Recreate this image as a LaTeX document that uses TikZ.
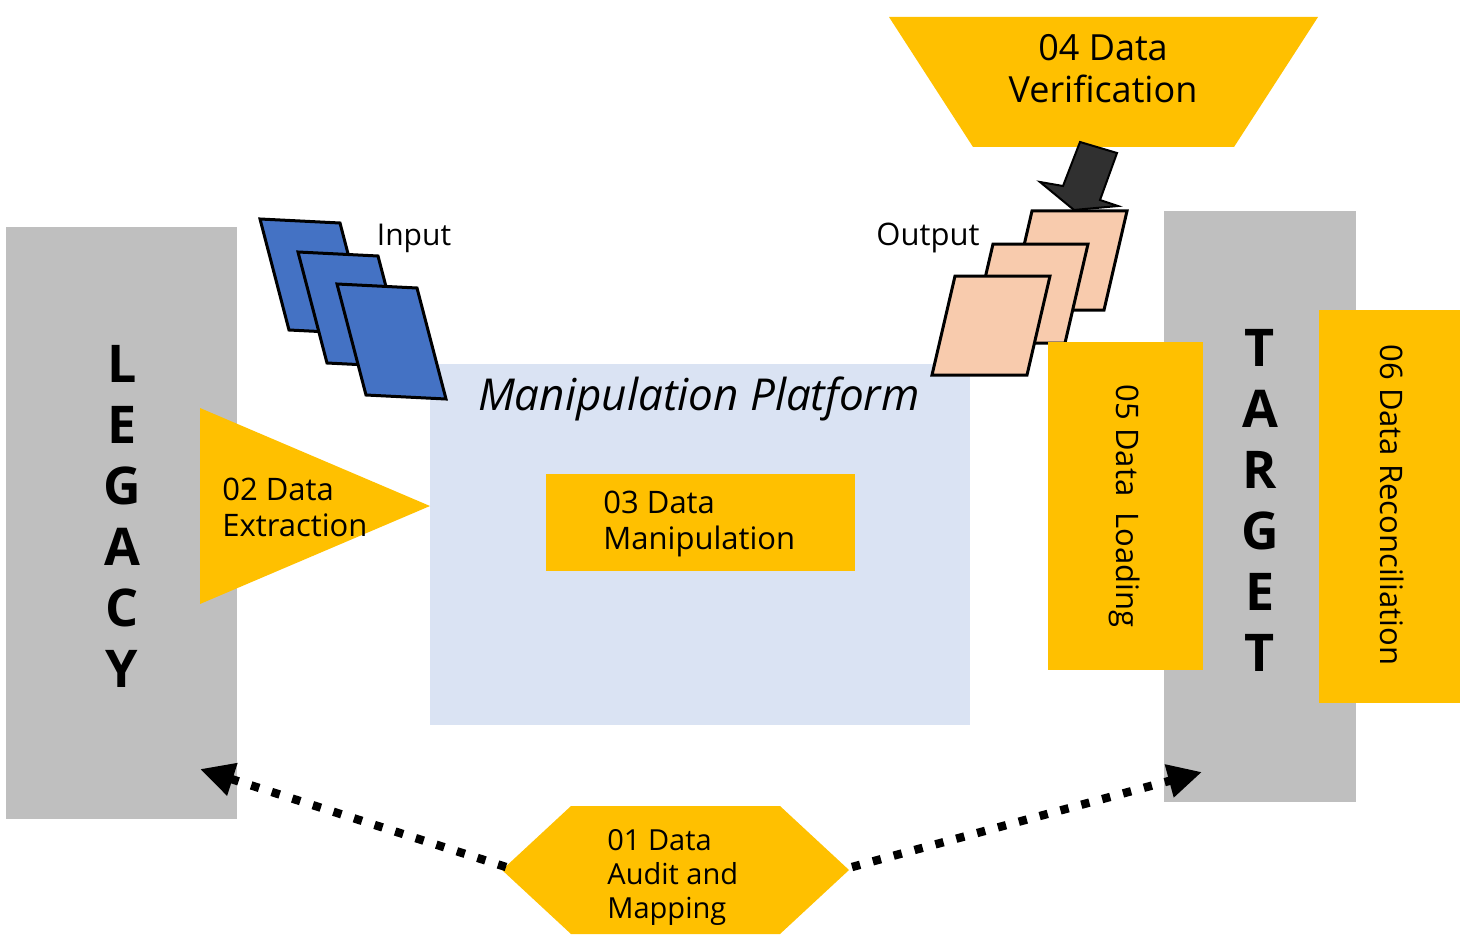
\documentclass[tikz,border=0pt]{standalone}
\usepackage{fontspec}
\setmainfont{Open Sans}
\usetikzlibrary{arrows.meta}
\definecolor{lgray}{HTML}{BFBFBF}
\definecolor{gold}{HTML}{FFC000}
\definecolor{paleblue}{HTML}{DAE3F3}
\definecolor{docblue}{HTML}{4472C4}
\definecolor{peach}{HTML}{F8CBAD}
\definecolor{darkarrow}{HTML}{303030}
\tikzset{
  blockbox/.style={inner sep=0pt, outer sep=0pt, anchor=north west, draw=none},
  lbl/.style={font=\fontsize{15.5}{18}\selectfont, align=left, inner sep=0pt},
  doc/.style={draw=black, line width=1.5pt, line join=miter},
  dotarrow/.style={line width=4.2pt, dash pattern=on 4.2pt off 6.6pt, line cap=butt,
                   -{Triangle[length=17pt,width=16pt]}},
  bigletter/.style={font=\fontsize{26}{30.5}\selectfont\bfseries, align=center, inner sep=0pt}
}
\begin{document}
\begin{tikzpicture}[x=0.5pt,y=-0.5pt]
\useasboundingbox (0,0) rectangle (1460,936);
\clip (0,0) rectangle (1460,936);

% big gray columns and platform
\node[blockbox, fill=lgray, minimum width=115.5pt, minimum height=296pt] (legacy) at (6,227) {};
\node[blockbox, fill=lgray, minimum width=96pt, minimum height=295.5pt] (target) at (1164,211) {};
\node[blockbox, fill=paleblue, minimum width=270pt, minimum height=180.5pt] (platform) at (430,364) {};

\node[bigletter] (legacytxt) at (122,516) {L\\E\\G\\A\\C\\Y};
\node[bigletter] (targettxt) at (1260,500) {T\\A\\R\\G\\E\\T};

\node[font=\fontsize{22}{26}\selectfont\itshape, inner sep=0pt] (plattxt) at (699,399) {Manipulation Platform};

% 02 triangle
\fill[gold] (200,408) -- (430,506) -- (200,604) -- cycle;
\node[lbl, anchor=west] (extract) at (222,507) {02 Data\\Extraction};

% 03 box
\node[blockbox, fill=gold, minimum width=154.5pt, minimum height=48.5pt] (manip) at (546,474) {};
\node[lbl, anchor=west] (maniptxt) at (603,524) {03 Data\\Manipulation};

% input documents
\foreach \x/\y in {260/219, 298/252, 337/284}{
  \draw[doc, fill=docblue] (\x,\y) -- ++(80,4) -- ++(29,111) -- ++(-80,-4) -- cycle;
}
\node[font=\fontsize{15}{18}\selectfont, inner sep=0pt] (inlbl) at (414,238) {Input};

% output documents
\foreach \x/\y in {1032/211, 993/244, 955/276}{
  \draw[doc, fill=peach] (\x,\y) -- ++(95,0) -- ++(-23,99) -- ++(-95,0) -- cycle;
}
\node[font=\fontsize{15.5}{18}\selectfont, inner sep=0pt] (outlbl) at (928,238) {Output};

% 05 and 06
\node[blockbox, fill=gold, minimum width=77.5pt, minimum height=164pt] (load) at (1048,342) {};
\node[lbl, rotate=-90] (loadtxt) at (1125,506) {05 Data\ \ Loading};
\node[blockbox, fill=gold, minimum width=71pt, minimum height=196.5pt] (recon) at (1319,310) {};
\node[lbl, rotate=-90] (recontxt) at (1392,505) {06 Data Reconciliation};

% 04 trapezoid
\fill[gold] (889,17) -- (1318,17) -- (1234,147) -- (973,147) -- cycle;
\node[font=\fontsize{18}{21}\selectfont, align=center, inner sep=0pt] (verif) at (1103,69) {04 Data\\Verification};

% dark block arrow
\draw[fill=darkarrow, draw=black, line width=1pt, line join=miter]
  (1080,142) -- (1117,153) -- (1100,200) -- (1118,206) -- (1074,210) -- (1040,182) -- (1063,186) -- cycle;

% 01 hexagon
\fill[gold] (502,870) -- (571,806) -- (780,806) -- (849,870) -- (780,934) -- (571,934) -- cycle;
\coordinate (hexW) at (506,867);
\coordinate (hexE) at (852,867);
\node[lbl, anchor=west, font=\fontsize{14.5}{17}\selectfont] (audit) at (607,877) {01 Data\\Audit and\\Mapping};

% dotted connectors
\coordinate (legacyTip) at (200,769);
\coordinate (targetTip) at (1202,772);
\draw[dotarrow] (hexW) -- (legacyTip);
\draw[dotarrow] (hexE) -- (targetTip);
\end{tikzpicture}
\end{document}
